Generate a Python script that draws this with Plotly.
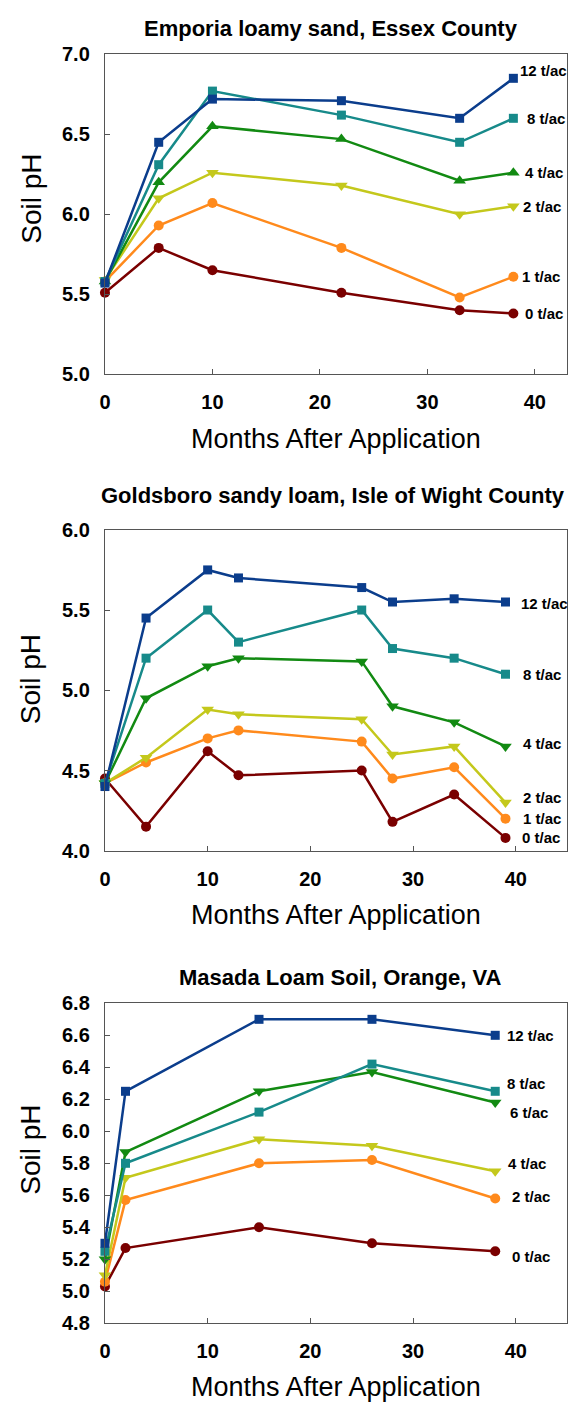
import plotly.graph_objects as go

# ---------------- data ----------------
# Panel 1: Emporia loamy sand, Essex County
p1_title = "Emporia loamy sand, Essex County"
p1_months = [0, 5, 10, 22, 33, 38]
p1_rates = ["0 t/ac", "1 t/ac", "2 t/ac", "4 t/ac", "8 t/ac", "12 t/ac"]
p1_ph_0 = [5.51, 5.79, 5.65, 5.51, 5.40, 5.38]
p1_ph_1 = [5.58, 5.93, 6.07, 5.79, 5.48, 5.61]
p1_ph_2 = [5.59, 6.10, 6.26, 6.18, 6.00, 6.05]
p1_ph_4 = [5.58, 6.20, 6.55, 6.47, 6.21, 6.26]
p1_ph_8 = [5.58, 6.31, 6.77, 6.62, 6.45, 6.60]
p1_ph_12 = [5.57, 6.45, 6.72, 6.71, 6.60, 6.85]

# Panel 2: Goldsboro sandy loam, Isle of Wight County
p2_title = "Goldsboro sandy loam, Isle of Wight County"
p2_months = [0, 4, 10, 13, 25, 28, 34, 39]
p2_rates = ["0 t/ac", "1 t/ac", "2 t/ac", "4 t/ac", "8 t/ac", "12 t/ac"]
p2_ph_0 = [4.45, 4.15, 4.62, 4.47, 4.50, 4.18, 4.35, 4.08]
p2_ph_1 = [4.42, 4.55, 4.70, 4.75, 4.68, 4.45, 4.52, 4.20]
p2_ph_2 = [4.42, 4.58, 4.88, 4.85, 4.82, 4.60, 4.65, 4.30]
p2_ph_4 = [4.42, 4.95, 5.15, 5.20, 5.18, 4.90, 4.80, 4.65]
p2_ph_8 = [4.42, 5.20, 5.50, 5.30, 5.50, 5.26, 5.20, 5.10]
p2_ph_12 = [4.40, 5.45, 5.75, 5.70, 5.64, 5.55, 5.57, 5.55]

# Panel 3: Masada Loam Soil, Orange, VA
p3_title = "Masada Loam Soil, Orange, VA"
p3_months = [0, 2, 15, 26, 38]
p3_rates = ["0 t/ac", "2 t/ac", "4 t/ac", "6 t/ac", "8 t/ac", "12 t/ac"]
p3_ph_0 = [5.03, 5.27, 5.40, 5.30, 5.25]
p3_ph_2 = [5.06, 5.57, 5.80, 5.82, 5.58]
p3_ph_4 = [5.10, 5.71, 5.95, 5.91, 5.75]
p3_ph_6 = [5.20, 5.87, 6.25, 6.37, 6.18]
p3_ph_8 = [5.25, 5.80, 6.12, 6.42, 6.25]
p3_ph_12 = [5.30, 6.25, 6.70, 6.70, 6.60]

x_title = "Months After Application"
y_title = "Soil pH"
x_ticks = [0, 10, 20, 30, 40]

# ---------------- styles ----------------
FONT = "Liberation Sans, Arial, sans-serif"
C_DRED = "#7A0000"
C_ORANGE = "#FF8A1C"
C_YEL = "#C4C81C"
C_GREEN = "#128A12"
C_TEAL = "#178A8A"
C_BLUE = "#0B3D8C"

panels = [
    dict(title=p1_title, x=p1_months, rates=p1_rates,
         series=[p1_ph_0, p1_ph_1, p1_ph_2, p1_ph_4, p1_ph_8, p1_ph_12],
         colors=[C_DRED, C_ORANGE, C_YEL, C_GREEN, C_TEAL, C_BLUE],
         symbols=["circle", "circle", "triangle-down", "triangle-up", "square", "square"],
         xrange=[0, 43], yrange=[5.0, 7.0], dtick=0.5,
         dom=(369, 44), title_xy=(328, 18), ytitle_y=191, xtitle_y=435,
         lab_dx=[10, 7, 8, 10, 12, 5], lab_dy=[0, 0, 0, 0, 0, 8]),
    dict(title=p2_title, x=p2_months, rates=p2_rates,
         series=[p2_ph_0, p2_ph_1, p2_ph_2, p2_ph_4, p2_ph_8, p2_ph_12],
         colors=[C_DRED, C_ORANGE, C_YEL, C_GREEN, C_TEAL, C_BLUE],
         symbols=["circle", "circle", "triangle-down", "triangle-down", "square", "square"],
         xrange=[0, 45], yrange=[4.0, 6.0], dtick=0.5,
         dom=(853, 527), title_xy=(330, 492), ytitle_y=679, xtitle_y=918,
         lab_dx=[15, 16, 16, 16, 16, 14], lab_dy=[0, 0, 5, 3, 0, -1]),
    dict(title=p3_title, x=p3_months, rates=p3_rates,
         series=[p3_ph_0, p3_ph_2, p3_ph_4, p3_ph_6, p3_ph_8, p3_ph_12],
         colors=[C_DRED, C_ORANGE, C_YEL, C_GREEN, C_TEAL, C_BLUE],
         symbols=["circle", "circle", "triangle-down", "triangle-down", "square", "square"],
         xrange=[0, 45], yrange=[4.8, 6.8], dtick=0.2,
         dom=(1333, 1008), title_xy=(337, 982), ytitle_y=1157, xtitle_y=1398,
         lab_dx=[15, 15, 11, 13, 10, 10], lab_dy=[-5, 2, 8, -10, 8, 0]),
]

W, H = 578, 1414
XL, XR = 100, 567

fig = go.Figure()
annotations = []
layout = dict(
    width=W, height=H, margin=dict(l=0, r=0, t=0, b=0),
    paper_bgcolor="white", plot_bgcolor="white", showlegend=False,
)

for i, p in enumerate(panels, start=1):
    xa = "x" if i == 1 else f"x{i}"
    ya = "y" if i == 1 else f"y{i}"
    for name, ys, col, sym in zip(p["rates"], p["series"], p["colors"], p["symbols"]):
        msize = 10 if sym == "circle" else (9 if sym == "square" else 11)
        fig.add_trace(go.Scatter(
            x=p["x"], y=ys, name=name, mode="lines+markers",
            line=dict(color=col, width=2.5),
            marker=dict(symbol=sym, size=msize, color=col),
            xaxis=xa, yaxis=ya, cliponaxis=False,
        ))
    for name, ys, col, dx, dy in zip(p["rates"], p["series"], p["colors"], p["lab_dx"], p["lab_dy"]):
        annotations.append(dict(
            x=p["x"][-1], y=ys[-1], xref=xa, yref=ya, text=f"<b>{name}</b>",
            showarrow=False, xanchor="left", yanchor="middle",
            xshift=dx, yshift=dy,
            font=dict(family=FONT, size=15, color="black"),
        ))
    bot, top = p["dom"]
    ax_common = dict(showline=True, linecolor="#555555", linewidth=1.3, mirror=True,
                     ticks="inside", ticklen=5, tickcolor="#555555",
                     showgrid=False, zeroline=False,
                     tickfont=dict(family=FONT, size=20, color="black", weight="bold"))
    layout["xaxis" if i == 1 else f"xaxis{i}"] = dict(
        domain=[XL / W, XR / W], range=p["xrange"], anchor=ya,
        tickvals=x_ticks, ticklabelstandoff=10, **ax_common)
    layout["yaxis" if i == 1 else f"yaxis{i}"] = dict(
        domain=[1 - bot / H, 1 - top / H], range=p["yrange"], anchor=xa,
        dtick=p["dtick"], tick0=p["yrange"][0], tickformat=".1f",
        ticklabelstandoff=10, **ax_common)
    tx, ty = p["title_xy"]
    annotations.append(dict(x=tx / W, y=1 - ty / H, xref="paper", yref="paper",
                            text=f"<b>{p['title']}</b>", showarrow=False,
                            xanchor="center", yanchor="middle",
                            font=dict(family=FONT, size=22, color="black")))
    annotations.append(dict(x=25 / W, y=1 - p["ytitle_y"] / H, xref="paper", yref="paper",
                            text=y_title, textangle=-90, showarrow=False,
                            xanchor="center", yanchor="middle",
                            font=dict(family=FONT, size=28, color="black")))
    annotations.append(dict(x=333 / W, y=1 - p["xtitle_y"] / H, xref="paper", yref="paper",
                            text=x_title, showarrow=False,
                            xanchor="center", yanchor="middle",
                            font=dict(family=FONT, size=27, color="black")))

layout["annotations"] = annotations
fig.update_layout(**layout)
fig.write_html(
    "out.html",
    config={"displayModeBar": False},
    post_script="document.body.style.margin='0';document.body.style.overflow='hidden';",
)
